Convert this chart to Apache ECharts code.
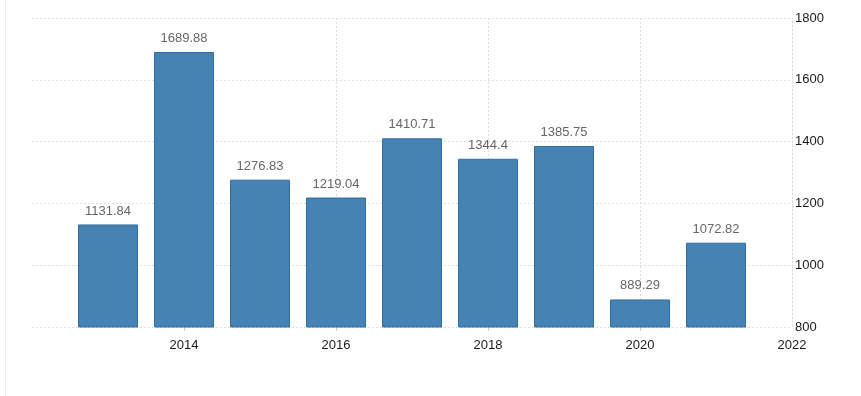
<!DOCTYPE html>
<html>
<head>
<meta charset="utf-8">
<script src="https://cdn.jsdelivr.net/npm/echarts@6/dist/echarts.min.js"></script>
<style>html,body{margin:0;padding:0;background:#fff}#c{width:861px;height:396px}</style>
</head>
<body>
<div id="c"></div>
<script>
var years = [2013, 2014, 2015, 2016, 2017, 2018, 2019, 2020, 2021];
var values = [1131.84, 1689.88, 1276.83, 1219.04, 1410.71, 1344.4, 1385.75, 889.29, 1072.82];
var yTicks = [800, 1000, 1200, 1400, 1600, 1800];
var xTicks = [2012, 2014, 2016, 2018, 2020, 2022];
var xTickMarks = [2014, 2016, 2018, 2020];

var chart = echarts.init(document.getElementById('c'), null, {renderer: 'canvas'});
chart.setOption({
  animation: false,
  backgroundColor: '#fff',
  textStyle: {fontFamily: 'Arial, "Liberation Sans", sans-serif'},
  grid: {left: 32, right: 69, top: 18, bottom: 69, containLabel: false},
  graphic: [{
    type: 'line', shape: {x1: 5.5, y1: 0, x2: 5.5, y2: 396},
    style: {stroke: '#ececec', lineWidth: 1}, silent: true
  }],
  xAxis: {
    type: 'value',
    min: xTicks[0], max: xTicks[xTicks.length - 1], interval: 2,
    axisLine: {show: false},
    axisTick: {show: true, length: 4, customValues: xTickMarks, lineStyle: {color: '#ccc'}},
    axisLabel: {
      color: '#1a1a1a', fontSize: 13, margin: 12,
      formatter: function (v) { return v === xTicks[0] ? '' : String(v); }
    },
    splitLine: {show: true, showMinLine: false, lineStyle: {color: '#ddd', type: [2, 2]}}
  },
  yAxis: {
    type: 'value', position: 'right',
    min: yTicks[0], max: yTicks[yTicks.length - 1], interval: 200,
    axisLine: {show: true, lineStyle: {color: '#ddd', type: [2, 2]}},
    axisTick: {show: false},
    axisLabel: {color: '#1a1a1a', fontSize: 13, margin: 3,
      formatter: function (v) { return String(v); }},
    splitLine: {show: true, lineStyle: {color: '#ddd', type: [2, 2]}}
  },
  series: [{
    type: 'bar',
    barWidth: 60,
    data: years.map(function (y, i) { return [y, values[i]]; }),
    itemStyle: {color: '#4682b4', borderColor: '#2f6fa6', borderWidth: 1},
    label: {
      show: true, position: 'top', distance: 7,
      color: '#666', fontSize: 13,
      formatter: function (p) { return String(p.value[1]); }
    }
  }]
});
</script>
</body>
</html>
